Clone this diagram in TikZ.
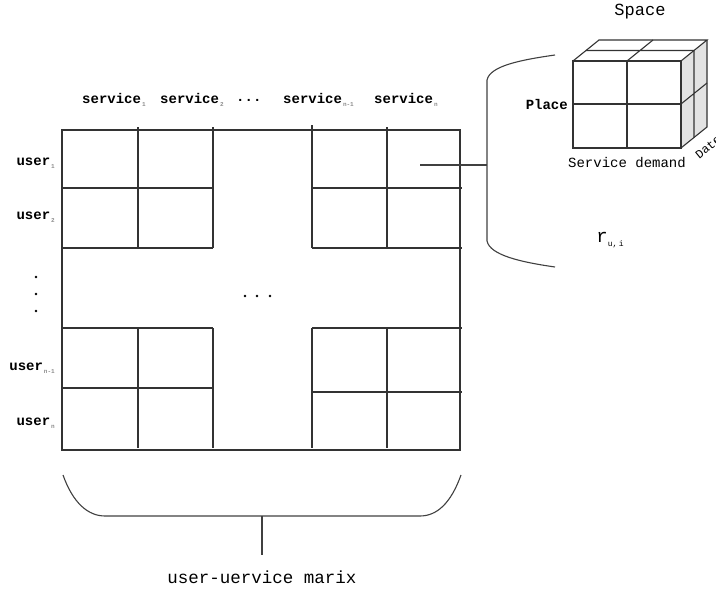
\documentclass[tikz,border=0pt]{standalone}
\usepackage{fontspec}
\setmainfont{Liberation Mono}
\usetikzlibrary{positioning}

\newcommand{\lowidx}[1]{\raisebox{-0.35ex}{\fontsize{6}{6}\selectfont\color{black!45}\,#1}}

\begin{document}
\begin{tikzpicture}[x=1pt, y=-1pt,
      grid/.style={line width=1.3pt, black!80},
      brace/.style={line width=1.1pt, black!75},
      colhead/.style={font=\fontsize{14}{14}\selectfont\bfseries, inner sep=0pt},
      rowhead/.style={font=\fontsize{14}{14}\selectfont\bfseries, inner sep=0pt, anchor=east},
      axislabel/.style={font=\fontsize{14}{14}\selectfont, inner sep=0pt},
      title/.style={font=\fontsize{17}{17}\selectfont, inner sep=0pt}]

      \useasboundingbox (0,0) rectangle (716,589);

      % Draw the outer frame of the matrix
      \draw[grid] (62,130) rectangle (460,450);

      % Top left and top right blocks
      \draw[grid] (62,188) -- (213,188) (62,248) -- (213,248);
      \draw[grid] (312,188) -- (462,188) (312,248) -- (462,248);
      \draw[grid] (138,127) -- (138,248) (213,127) -- (213,248);
      \draw[grid] (312,125) -- (312,248) (387,127) -- (387,248);

      % Bottom left and bottom right blocks
      \draw[grid] (62,328) -- (213,328) (62,388) -- (213,388);
      \draw[grid] (312,328) -- (462,328) (312,392) -- (462,392);
      \draw[grid] (138,328) -- (138,448) (213,328) -- (213,448);
      \draw[grid] (312,328) -- (312,448) (387,328) -- (387,448);

      % Column labels
      \node[colhead, anchor=west] (s1) at (82,100) {service\lowidx{1}};
      \node[colhead, anchor=west] (s2) at (160,100) {service\lowidx{2}};
      \node[colhead, anchor=west] (sdots) at (236,100) {...};
      \node[colhead, anchor=west] (sn1) at (283,100) {service\lowidx{n-1}};
      \node[colhead, anchor=west] (sn) at (374,100) {service\lowidx{n}};

      % Row labels
      \node[rowhead] (u1) at (55,163) {user\lowidx{1}};
      \node[rowhead] (u2) at (55,217) {user\lowidx{2}};
      \node[rowhead] (un1) at (55,368) {user\lowidx{n-1}};
      \node[rowhead] (un) at (55,423) {user\lowidx{n}};

      % Skipped rows and columns
      \foreach \y in {277,294,311} \fill (36,\y) circle (1.4pt);
      \foreach \x in {245,257,270} \fill (\x,296) circle (1.4pt);

      % Brace under the matrix
      \coordinate (stem) at (262,516);
      \draw[brace] (63,475) .. controls (73,503) and (88,516) .. (105,516)
            -- (420,516) .. controls (437,516) and (451,503) .. (461,475);
      \node[title, font=\fontsize{17.5}{17.5}\selectfont] (matlabel) at (262,577) {user-uervice marix};
      \draw[brace] (stem) -- (262,555);

      % Link from a cell to the bracket
      \coordinate (cell) at (420,165);
      \coordinate (link) at (487,165);
      \draw[brace] (cell) -- (link);
      \draw[brace] (555,55) .. controls (520,60) and (490,66) .. (487,80)
            -- (487,241) .. controls (490,255) and (520,262) .. (555,267);

      % Space cube
      \fill[gray!22] (681,61) -- (707,40) -- (707,127) -- (681,148) -- cycle;
      \draw[grid, line width=1.1pt] (573,61) rectangle (681,148);
      \draw[grid, line width=1.1pt] (573,61) -- (599,40) -- (707,40) -- (681,61);
      \draw[grid, line width=1.1pt] (707,40) -- (707,127) -- (681,148);
      \draw[grid, line width=1.1pt] (627,61) -- (627,148) (573,104) -- (681,104);
      \draw[grid, line width=1.1pt] (586,50.5) -- (694,50.5) (627,61) -- (653,40);
      \draw[grid, line width=1.1pt] (694,50.5) -- (694,137.5) (681,104) -- (707,83);

      % Cube labels
      \node[title] (space) at (640,12) {Space};
      \node[axislabel, font=\fontsize{14}{14}\selectfont\bfseries, anchor=east] (place) at (568,104) {Place};
      \node[axislabel] (demand) at (627,163) {Service demand};
      \node[axislabel, font=\fontsize{12}{12}\selectfont, rotate=39, anchor=north west] (date) at (694,153) {Date};
      \node[title] (rui) at (610,240) {\fontsize{19}{19}\selectfont r\raisebox{-0.4ex}{\fontsize{8}{8}\selectfont u,\,i}};
   \end{tikzpicture}
\end{document}
